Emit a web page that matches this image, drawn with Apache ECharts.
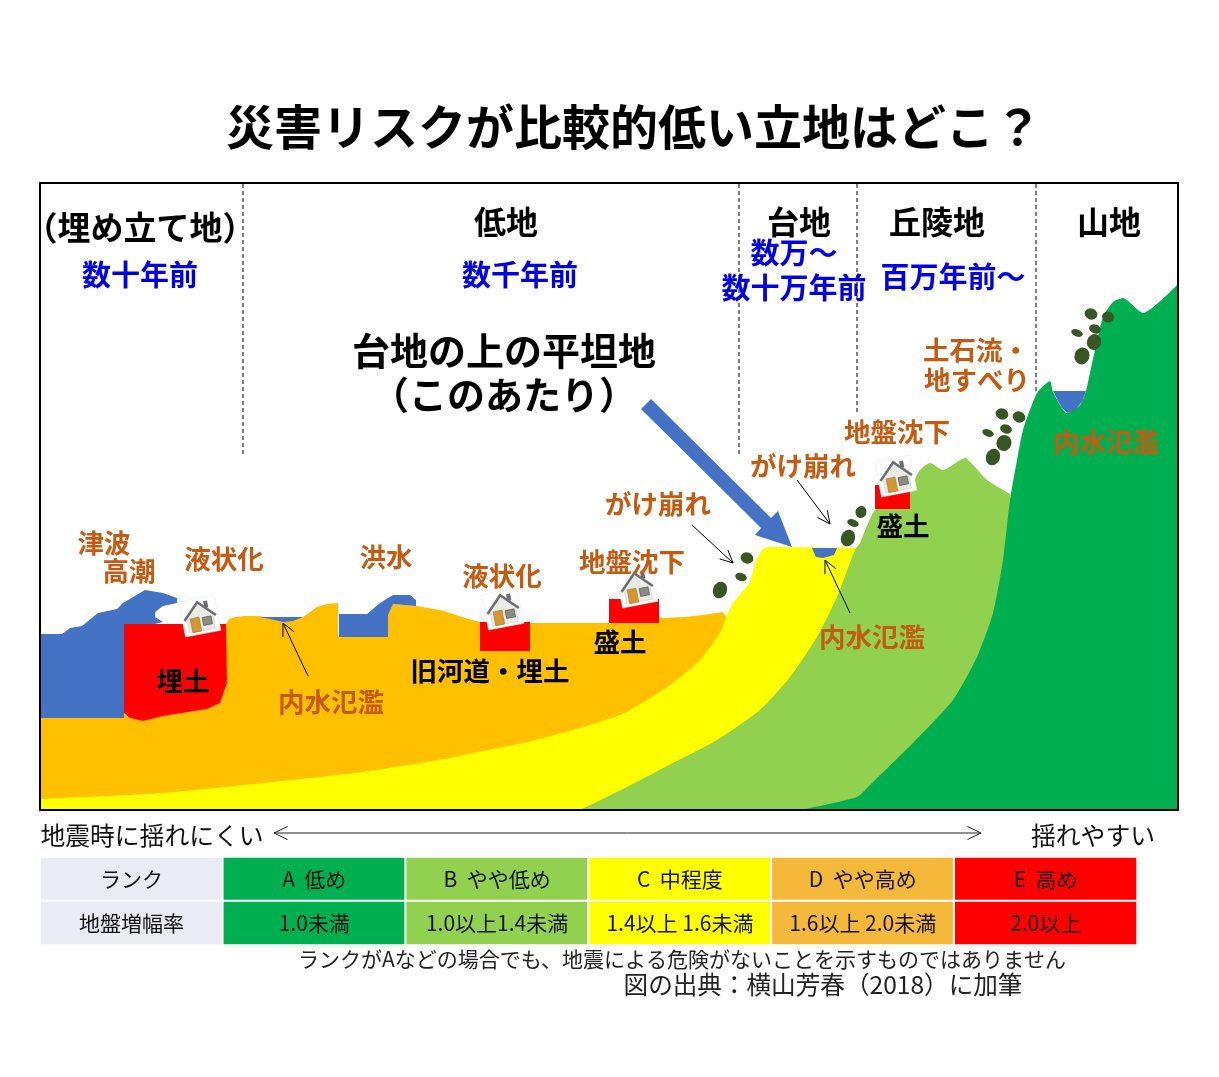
<!DOCTYPE html>
<html>
<head>
<meta charset="utf-8">
<title>災害リスクが比較的低い立地はどこ？</title>
<script src="https://cdn.jsdelivr.net/npm/echarts@6/dist/echarts.min.js"></script>
<style>
html, body { margin: 0; padding: 0; background: #fff; }
#main { width: 1219px; height: 1077px; }
</style>
</head>
<body>
<div id="main"></div>
<script>
var FONT = '"Noto Sans CJK JP", sans-serif';

// ground surfaces, [distance, depth]
var lowlandTop = [[40,718],[124,718],[124,650],[226,650],[226,624],[229,619],[235,617],[245,616],[259,616],[283,621],[303,617],[310,612],[317,607],[327,604],[338,603],[338,637],[388,637],[388,613],[393,604],[405,605],[416,606],[428,608],[440,610],[450,613],[465,618],[480,622],[530,623],[610,623],[660,618],[685,617],[703,615],[723,612],[726,617]];
var plateauTop = [[40,799],[163,793],[263,783],[363,772],[450,758],[473,753],[523,743],[573,730],[620,715],[647,700],[673,683],[700,660],[720,633],[726,617],[733,603],[750,582],[755,563],[762,550],[768,547],[857,548]];
var hillTop = [[580,810],[627,787],[673,763],[717,740],[760,710],[790,677],[817,637],[837,597],[855,550],[860,543],[875,510],[910,487],[920,470],[930,463],[943,470],[965,458],[973,465],[987,480],[1010,494]];
var mountainTop = [[798,810],[810,808],[857,797],[870,785],[913,743],[953,700],[977,657],[993,613],[1003,560],[1010,500],[1017,460],[1023,430],[1037,393],[1050,381],[1053,392],[1067,413],[1080,405],[1086,391],[1090,373],[1103,317],[1113,302],[1123,298],[1143,313],[1178,284]];

// water and fill shapes
var seaWater = [[41,634],[62,634],[70,628],[82,626],[98,613],[117,609],[123,603],[145,590],[163,593],[177,598],[177,603],[163,606],[155,612],[155,617],[163,622],[155,624],[124,624],[124,718],[41,718]];
var floodWater = [[339,614],[367,614],[380,603],[393,595],[410,595],[416,600],[416,606],[393,604],[388,615],[388,637],[339,637]];
var lowPond = [[259,617],[303,617],[293,621],[283,622],[270,619]];
var plateauPond = [[812,548],[837,548],[834,555],[823,558],[816,557]];
var mountainPond = [[1053,391],[1086,391],[1082,402],[1075,410],[1067,413],[1062,408],[1058,401]];
var reclaimed = [[124,624],[226,624],[227,683],[220,703],[207,709],[163,716],[143,721],[130,718],[124,713]];
var moundA = [[480,622],[530,622],[530,651],[480,651]];
var moundB = [[609,599],[659,599],[659,623],[609,623]];
var moundC = [[875,485],[910,485],[910,509],[875,509]];
var bigArrow = [[641,409],[651,399],[771,518],[778,511],[792,547],[755,535],[761,528]];

var houses = [[200,617],[503,610],[637,588],[896,477]];
var rocks = [[747,558],[741,577],[720,590],[861,512],[853,523],[848,538],[1002,414],[1019,417],[1006,429],[988,433],[1004,443],[993,457],[1091,314],[1108,317],[1095,329],[1077,333],[1094,342],[1082,356]];
var rockSizes = [[13,11],[12,8],[14,17],[11,12],[12,7],[14,17],[13,11],[13,11],[12,9],[12,7],[15,16],[14,17],[13,11],[12,11],[12,9],[12,7],[14,16],[15,17]];

var dividers = [[243,457],[739,457],[857,415],[1036,392]];
var pointers = [[308,676,283,623],[692,525,733,563],[797,480,830,524],[850,613,825,560]];
var shakeArrow = [274,833,981,833];

var regionLabels = [['（埋め立て地）',140,227,33],['低地',506,222],['台地',799,222],['丘陵地',937,222],['山地',1109,222]];
var ageLabels = [['数十年前',140,275],['数千年前',520,275],['数万～',794,253],['数十万年前',794,288],['百万年前～',953,277]];
var calloutLabels = [['台地の上の平坦地',504,351],['（このあたり）',504,395]];
var hazardLabels = [['津波',104,543],['高潮',129,571],['液状化',224,559],['洪水',386,557],['液状化',502,576],['地盤沈下',632,562],['がけ崩れ',658,504],['がけ崩れ',803,466],['地盤沈下',897,432],['土石流・',976,350],['地すべり',977,380],['内水氾濫',331,702],['内水氾濫',872,637],['内水氾濫',1106,442]];
var fillLabels = [['埋土',183,681],['旧河道・埋土',490,671],['盛土',620,642],['盛土',903,526]];
var shakeLabels = [['地震時に揺れにくい',152,836],['揺れやすい',1093,836]];
var noteLabels = [['ランクがAなどの場合でも、地震による危険がないことを示すものではありません',682,959,21],['図の出典：横山芳春（2018）に加筆',823,985,24.6]];

var rankRow = ['ランク','A  低め','B  やや低め','C  中程度','D  やや高め','E  高め'];
var ampRow = ['地盤増幅率','1.0未満','1.0以上1.4未満','1.4以上 1.6未満','1.6以上 2.0未満','2.0以上'];
var rankColors = ['#E9EBF5','#00B050','#92D050','#FFFF00','#F4B93A','#FF0000'];

function groundSeries(points, color, smooth) {
    return {
        type: 'line', data: points, symbol: 'none', smooth: smooth,
        lineStyle: { width: 0 }, areaStyle: { color: color, opacity: 1, origin: 'end' },
        silent: true
    };
}

function shapeSeries(points, color) {
    return {
        type: 'custom', data: [[points[0][0], points[0][1]]], silent: true, clip: false, z: 3,
        renderItem: function (params, api) {
            return {
                type: 'polygon',
                shape: { points: points.map(function (p) { return api.coord(p); }), smooth: 0 },
                style: { fill: color }
            };
        }
    };
}

function textSeries(list, color, size, weight) {
    return {
        type: 'custom', data: list.map(function (r) { return [r[1], r[2]]; }), silent: true, clip: false, z: 6,
        renderItem: function (params, api) {
            var row = list[params.dataIndex];
            var c = api.coord([row[1], row[2]]);
            return {
                type: 'text',
                style: {
                    text: row[0], x: c[0], y: c[1], fill: color,
                    font: weight + ' ' + (row[3] || size) + 'px ' + FONT,
                    align: 'center', verticalAlign: 'middle'
                }
            };
        }
    };
}

function arrowParts(a, api, size, color, both) {
    var s = api.coord([a[0], a[1]]), e = api.coord([a[2], a[3]]);
    var ang = Math.atan2(e[1] - s[1], e[0] - s[0]);
    function head(p, t) {
        return {
            type: 'polyline',
            shape: { points: [
                [p[0] - size * Math.cos(t - 0.45), p[1] - size * Math.sin(t - 0.45)], p,
                [p[0] - size * Math.cos(t + 0.45), p[1] - size * Math.sin(t + 0.45)]
            ] },
            style: { stroke: color, fill: null, lineWidth: 1 }
        };
    }
    var parts = [
        { type: 'line', shape: { x1: s[0], y1: s[1], x2: e[0], y2: e[1] }, style: { stroke: color, lineWidth: 1 } },
        head(e, ang)
    ];
    if (both) parts.push(head(s, ang + Math.PI));
    return parts;
}

var series = [
    groundSeries(lowlandTop, '#FFC000', false),
    groundSeries(plateauTop, '#FFFF00', 0.2),
    groundSeries(hillTop, '#92D050', 0.2),
    groundSeries(mountainTop, '#00B050', 0.2),
    shapeSeries(seaWater, '#4472C4'),
    shapeSeries(floodWater, '#4472C4'),
    shapeSeries(lowPond, '#4472C4'),
    shapeSeries(plateauPond, '#4472C4'),
    shapeSeries(mountainPond, '#4472C4'),
    shapeSeries(reclaimed, '#FF0000'),
    shapeSeries(moundA, '#FF0000'),
    shapeSeries(moundB, '#FF0000'),
    shapeSeries(moundC, '#FF0000'),
    {
        type: 'scatter', data: rocks, silent: true, z: 3,
        symbol: 'circle',
        symbolSize: function (v, p) { return rockSizes[p.dataIndex]; },
        symbolRotate: -20,
        itemStyle: { color: '#375623', opacity: 1 }
    },
    {
        // little tilted house
        type: 'custom', data: houses, silent: true, clip: false, z: 4,
        renderItem: function (params, api) {
            var c = api.coord(houses[params.dataIndex]);
            return {
                type: 'group', x: c[0], y: c[1], rotation: 0.19,
                children: [
                    { type: 'rect', shape: { x: -18, y: -19, width: 36, height: 36 }, style: { fill: '#fff', stroke: '#e8e8e8', lineWidth: 0.5 } },
                    { type: 'polygon', shape: { points: [[-13,-1],[0,-14],[13,-1],[13,14],[-13,14]] }, style: { fill: '#ECEAE4', stroke: '#c9c7c0', lineWidth: 0.5 } },
                    { type: 'rect', shape: { x: 6, y: -15, width: 4, height: 7 }, style: { fill: '#6b6f73' } },
                    { type: 'polyline', shape: { points: [[-16,1],[0,-15],[16,1]] }, style: { stroke: '#6b6f73', fill: null, lineWidth: 2.5 } },
                    { type: 'rect', shape: { x: -10, y: 0, width: 9, height: 14 }, style: { fill: '#D9952B', stroke: '#9a8560', lineWidth: 0.7 } },
                    { type: 'rect', shape: { x: 2, y: 1, width: 9, height: 8 }, style: { fill: '#8b8d84', stroke: '#55585a', lineWidth: 0.7 } }
                ]
            };
        }
    },
    {
        type: 'custom', data: pointers, silent: true, clip: false, z: 5,
        renderItem: function (params, api) {
            return { type: 'group', children: arrowParts(pointers[params.dataIndex], api, 14, '#000', false) };
        }
    },
    {
        type: 'custom', data: [[shakeArrow[0], shakeArrow[1]]], silent: true, clip: false, z: 5,
        renderItem: function (params, api) {
            return { type: 'group', children: arrowParts(shakeArrow, api, 15, '#222', true) };
        }
    },
    Object.assign(shapeSeries(bigArrow, '#4472C4'), { z: 5 }),
    textSeries(regionLabels, '#000', 32, 'bold'),
    textSeries(ageLabels, '#0000E6', 29, 'bold'),
    textSeries(calloutLabels, '#000', 38, 'bold'),
    textSeries(hazardLabels, '#C55A11', 26.5, 'bold'),
    textSeries(fillLabels, '#000', 26.5, 'bold'),
    textSeries(shakeLabels, '#111', 24.8, 'normal'),
    textSeries(noteLabels, '#222', 21, 'normal'),
    {
        type: 'heatmap', xAxisIndex: 1, yAxisIndex: 1,
        data: rankRow.map(function (t, i) { return [i, 0, i]; }).concat(ampRow.map(function (t, i) { return [i, 1, i]; })),
        silent: true,
        itemStyle: { borderColor: '#fff', borderWidth: 2 },
        label: {
            show: true, fontFamily: FONT, fontSize: 21, color: '#111',
            formatter: function (p) { return (p.data[1] === 0 ? rankRow : ampRow)[p.data[0]]; }
        }
    }
];

// dotted borders between the landforms
dividers.forEach(function (d) {
    series.push({
        type: 'line', data: [[d[0], 184], [d[0], d[1]]], symbol: 'none', silent: true, z: 3,
        lineStyle: { color: '#000', width: 1, type: [4, 3] }
    });
});

var myChart = echarts.init(document.getElementById('main'));
myChart.setOption({
    animation: false,
    backgroundColor: '#fff',
    title: {
        text: '災害リスクが比較的低い立地はどこ？', left: 226, top: 103, padding: 0,
        textStyle: { fontFamily: FONT, fontSize: 48, fontWeight: 'bold', color: '#000' }
    },
    grid: [
        { left: 40, top: 183, width: 1138, height: 627, show: true, z: 10, borderColor: '#000', borderWidth: 2, backgroundColor: 'transparent' },
        { left: 40, top: 857, width: 1097, height: 88 }
    ],
    xAxis: [
        { type: 'value', gridIndex: 0, min: 40, max: 1178, show: false },
        { type: 'category', gridIndex: 1, data: rankRow, show: false }
    ],
    yAxis: [
        { type: 'value', gridIndex: 0, min: 183, max: 810, inverse: true, show: false },
        { type: 'category', gridIndex: 1, data: ['rank', 'amp'], inverse: true, show: false }
    ],
    visualMap: {
        show: false, type: 'piecewise', dimension: 2, seriesIndex: series.length - dividers.length - 1,
        pieces: rankColors.map(function (c, i) { return { value: i, color: c }; })
    },
    series: series
});
</script>
</body>
</html>
